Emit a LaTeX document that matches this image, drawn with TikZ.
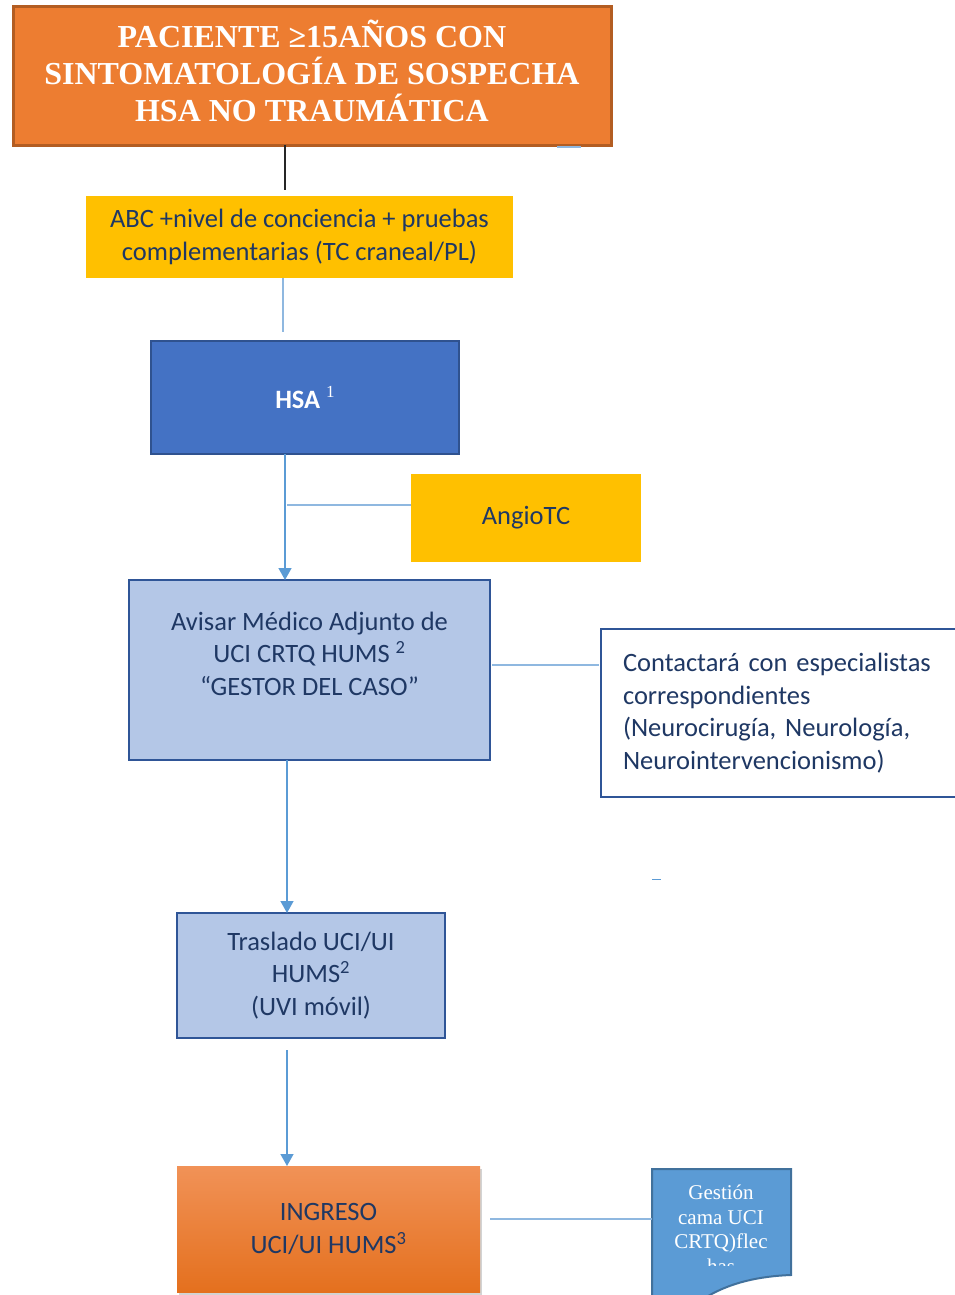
\documentclass[tikz,border=0pt]{standalone}
\usepackage{fontspec}
\setmainfont{Carlito}
\newfontfamily\serifface{Liberation Serif}
\usetikzlibrary{arrows.meta,shadows,calc}
\definecolor{orangeF}{HTML}{ED7D31}
\definecolor{orangeD}{HTML}{B35D22}
\definecolor{gold}{HTML}{FFC000}
\definecolor{tblue}{HTML}{1F3864}
\definecolor{hsaF}{HTML}{4472C4}
\definecolor{hsaD}{HTML}{2F528F}
\definecolor{lblueF}{HTML}{B4C7E7}
\definecolor{lblueD}{HTML}{2F5597}
\definecolor{conn}{HTML}{5B9BD5}
\definecolor{connL}{HTML}{8FB8E0}
\definecolor{docF}{HTML}{5B9BD5}
\definecolor{docD}{HTML}{41719C}
\definecolor{ingT}{HTML}{F19257}
\definecolor{ingB}{HTML}{E4701E}
\tikzset{
  basebox/.style={rectangle, anchor=north west, inner sep=0pt, outer sep=0pt, align=center, text=tblue,
    font=\fontsize{26.5}{32.5}\selectfont},
  goldbox/.style={basebox, fill=gold},
  lightbox/.style={basebox, fill=lblueF, draw=lblueD, line width=2.5pt},
  arrowline/.style={draw=conn, line width=1.3pt, -{Triangle[width=13pt,length=12pt]}},
  plainline/.style={draw=connL, line width=1.3pt},
}
\begin{document}
\begin{tikzpicture}[x=1pt,y=-1pt]
\useasboundingbox (0,0) rectangle (955,1295);
\clip (0,0) rectangle (955,1295);

% title
\node[basebox, fill=orangeF, draw=orangeD, line width=3pt, text=white,
      minimum width=598, minimum height=138,
      font=\serifface\bfseries\fontsize{32}{37}\selectfont] (title) at (13,7)
  {PACIENTE ≥15AÑOS CON\\SINTOMATOLOGÍA DE SOSPECHA\\HSA NO TRAUMÁTICA\\[-27pt]\mbox{}};
\draw[connL, line width=2pt] (557,146.5) -- (581,146.5);

% ABC
\node[goldbox, minimum width=427, minimum height=82] (abc) at (86,196)
  {ABC +nivel de conciencia + pruebas\\complementarias (TC craneal/PL)};

% HSA
\node[basebox, fill=hsaF, draw=hsaD, line width=2.5pt, text=white,
      minimum width=308, minimum height=113] (hsa) at (151,341)
  {\bfseries\fontsize{26.5}{30}\selectfont HSA \raisebox{0.4em}{\serifface\mdseries\fontsize{17}{17}\selectfont 1}};

% AngioTC
\node[goldbox, minimum width=230, minimum height=88] (angio) at (411,474) {AngioTC};

% Avisar
\node[lightbox, minimum width=361, minimum height=180] (avisar) at (129,580)
  {Avisar Médico Adjunto de\\UCI CRTQ HUMS \textsuperscript{2}\\“GESTOR DEL CASO”\\\mbox{}};

% Contactara
\node[basebox, fill=white, draw=lblueD, line width=2.5pt, align=left,
      text width=340, inner xsep=22, minimum height=168] (contact) at (601,629)
  {Contactará con especialistas\\correspondientes\\(Neurocirugía, Neurología,\\Neurointervencionismo)};

% Traslado
\node[lightbox, minimum width=268, minimum height=125] (traslado) at (177,913)
  {Traslado UCI/UI\\HUMS\textsuperscript{2}\\(UVI móvil)};

\draw[conn, line width=1.5pt] (652,879.5) -- (661,879.5);

% Ingreso
\node[basebox, top color=ingT, bottom color=ingB,
      drop shadow={opacity=0.35, shadow xshift=2pt, shadow yshift=-3pt},
      minimum width=303, minimum height=126] (ingreso) at (177,1166)
  {INGRESO\\UCI/UI HUMS\textsuperscript{3}};

% Gestion document shape
\node[anchor=north west, minimum width=139, minimum height=126, inner sep=0pt, outer sep=0pt] (gestion) at (652,1169) {};
\draw[fill=docF, draw=docD, line width=2pt]
  (gestion.south west) ++(0,-10) -- (gestion.north west) -- (gestion.north east)
  -- (791,1275) .. controls (762,1276) and (728,1282) .. (702,1300) -- (652,1300) -- cycle;
\begin{scope}
\clip (652,1169) rectangle (791,1265.5);
\node[anchor=north, align=center, text=white, inner sep=0pt,
      font=\serifface\fontsize{21}{24.5}\selectfont] (gtext) at (721,1185)
  {Gestión\\cama UCI\\CRTQ)flec\\has};
\end{scope}

% connectors
\coordinate (t1) at ([xshift=-27pt]title.south);
\draw[draw=black!85, line width=1.3pt] (t1) -- (t1 |- 0,190);
\coordinate (a1) at ([xshift=-16.5pt]abc.south);
\draw[plainline] (a1) -- (a1 |- 0,332);
\coordinate (h1) at ([xshift=-20pt]hsa.south);
\draw[arrowline] (h1) -- (h1 |- avisar.north);
\coordinate (g1) at ([yshift=13pt]angio.west);
\draw[plainline] (g1) -- ([xshift=2pt]g1 -| h1);
\coordinate (v1) at ([yshift=5pt,xshift=2pt]avisar.east);
\draw[plainline] (v1) -- ([xshift=-2pt]v1 -| contact.west);
\coordinate (v2) at ([xshift=-22.5pt]avisar.south);
\draw[arrowline] (v2) -- (v2 |- traslado.north);
\coordinate (r1) at ([xshift=-24pt, yshift=-12pt]traslado.south);
\draw[arrowline] (r1) -- (r1 |- ingreso.north);
\coordinate (i1) at ([yshift=10pt,xshift=10pt]ingreso.east);
\draw[plainline] (i1) -- (i1 -| gestion.west);
\end{tikzpicture}
\end{document}
